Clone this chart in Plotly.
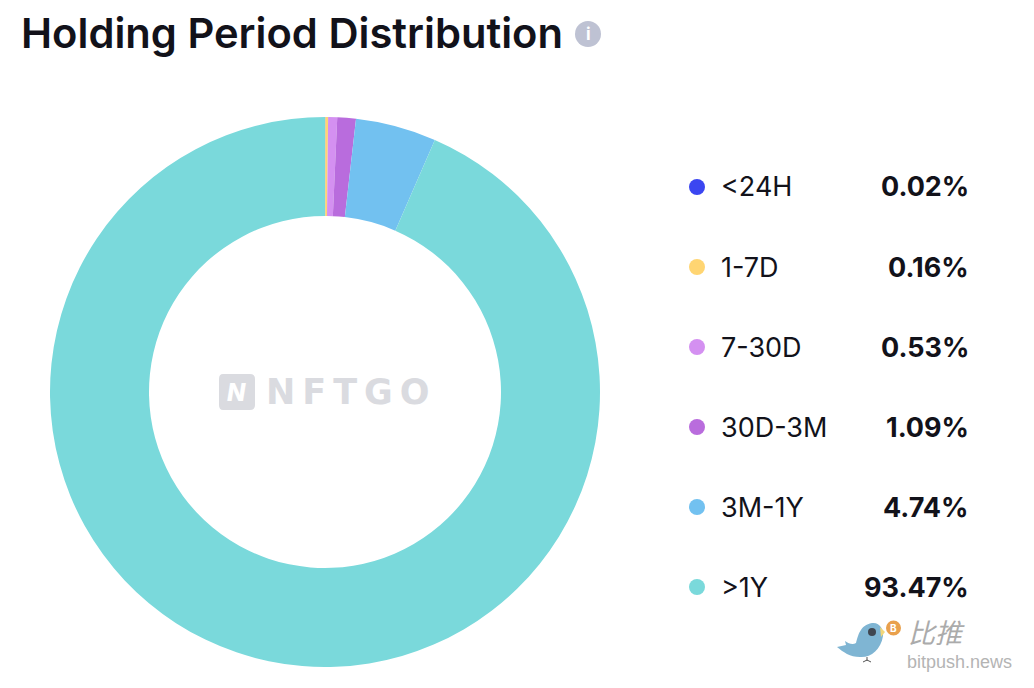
import plotly.graph_objects as go

categories = ["<24H", "1-7D", "7-30D", "30D-3M", "3M-1Y", ">1Y"]
values = [0.02, 0.16, 0.53, 1.09, 4.74, 93.47]
value_labels = ["0.02%", "0.16%", "0.53%", "1.09%", "4.74%", "93.47%"]
colors = ["#3B46F1", "#FFD572", "#D490F1", "#B96CDD", "#72C1F0", "#7AD9DB"]
title_text = "Holding Period Distribution"

W, H = 1034, 688
FONT = "Inter, 'Noto Sans', sans-serif"
INK = "#12121A"

def px(x): return x / W
def py(y): return 1 - y / H

def path(*cmds):
    out = []
    for c in cmds:
        op, *nums = c
        pts = [f"{px(nums[i])} {py(nums[i + 1])}" for i in range(0, len(nums), 2)]
        out.append(op + " " + " ".join(pts))
    return " ".join(out)

def pshape(p, color):
    return dict(type="path", xref="paper", yref="paper", path=p, fillcolor=color, line_width=0)

fig = go.Figure(go.Pie(
    labels=categories, values=values, sort=False, direction="clockwise", rotation=0,
    hole=0.64, textinfo="none", showlegend=False,
    marker=dict(colors=colors, line=dict(width=0)),
    domain=dict(x=[px(50), px(600)], y=[py(667), py(117)]),
))

ann = [
    dict(x=px(20), y=py(33), text=title_text, xanchor="left",
         font=dict(size=41.7, color=INK, family=FONT, weight=600)),
    dict(x=px(588), y=py(34), text="i", xanchor="center",
         font=dict(size=17, color="#FFFFFF", family=FONT, weight=700)),
    dict(x=px(265), y=py(392), text="N\u2009F\u2009T\u2009G\u2009O", xanchor="left",
         font=dict(size=35, color="#DADBE0", family="'DejaVu Sans', sans-serif", weight=700)),
    dict(x=px(236.5), y=py(392), text="<i>N</i>", xanchor="center",
         font=dict(size=24, color="#FFFFFF", family=FONT, weight=800)),
    dict(x=px(907), y=py(631), text="<i>比推</i>", xanchor="left",
         font=dict(size=27, color="#ABABAB", family="'Noto Sans CJK SC'")),
    dict(x=px(906), y=py(662), text="bitpush.news", xanchor="left",
         font=dict(size=18, color="#B4B4B4", family="'Liberation Sans'")),
    dict(x=px(893), y=py(628), text="B", xanchor="center",
         font=dict(size=10, color="#FFFFFF", family=FONT, weight=700)),
]
shapes = [
    dict(type="circle", xref="paper", yref="paper", x0=px(575), x1=px(601), y0=py(47), y1=py(21),
         fillcolor="#BEC2D3", line_width=0),
    pshape(path(("M", 223, 374), ("L", 250, 374), ("Q", 255, 374, 255, 379), ("L", 255, 405),
                ("Q", 255, 410, 250, 410), ("L", 223, 410), ("Q", 219, 410, 219, 405),
                ("L", 219, 379), ("Q", 219, 374, 223, 374)) + " Z", "#DADBE0"),
    pshape(path(("M", 837, 647), ("L", 846, 645), ("L", 845, 641),
                ("C", 849, 644, 853, 645, 856, 643), ("C", 858, 636, 860, 625, 872, 623),
                ("C", 880, 622, 884, 630, 883, 636), ("C", 881, 650, 870, 658, 860, 657),
                ("C", 850, 657, 843, 652, 837, 647)) + " Z", "#7FB5D3"),
    pshape(path(("M", 880, 627), ("L", 885, 632), ("L", 881, 637)) + " Z", "#F2D77A"),
    dict(type="circle", xref="paper", yref="paper", x0=px(868), x1=px(876), y0=py(636), y1=py(628),
         fillcolor="#3F4650", line_width=0),
    dict(type="circle", xref="paper", yref="paper", x0=px(886), x1=px(901), y0=py(635.5), y1=py(620.5),
         fillcolor="#E9A04C", line_width=0),
    dict(type="path", xref="paper", yref="paper", line=dict(color="#555555", width=1),
         path=path(("M", 867, 657), ("L", 867, 661), ("M", 863, 662), ("L", 867, 660), ("L", 871, 662))),
]

for i, (cat, lab, col) in enumerate(zip(categories, value_labels, colors)):
    y = 187 + 80 * i
    shapes.append(dict(type="circle", xref="paper", yref="paper",
                       x0=px(689), x1=px(705), y0=py(y + 8), y1=py(y - 8),
                       fillcolor=col, line_width=0))
    ann.append(dict(x=px(720), y=py(y), text=cat.replace("<", "&lt;"), xanchor="left",
                    font=dict(size=27, color=INK, family=FONT, weight=400)))
    ann.append(dict(x=px(970), y=py(y), text=lab, xanchor="right",
                    font=dict(size=27, color=INK, family=FONT, weight=700)))

for a in ann:
    a.update(xref="paper", yref="paper", yanchor="middle", showarrow=False, borderpad=0)

fig.update_layout(width=W, height=H, margin=dict(l=0, r=0, t=0, b=0),
                  paper_bgcolor="#FFFFFF", annotations=ann, shapes=shapes)
fig.write_html("out.html", config={"displayModeBar": False},
               post_script="document.body.style.margin='0';")
